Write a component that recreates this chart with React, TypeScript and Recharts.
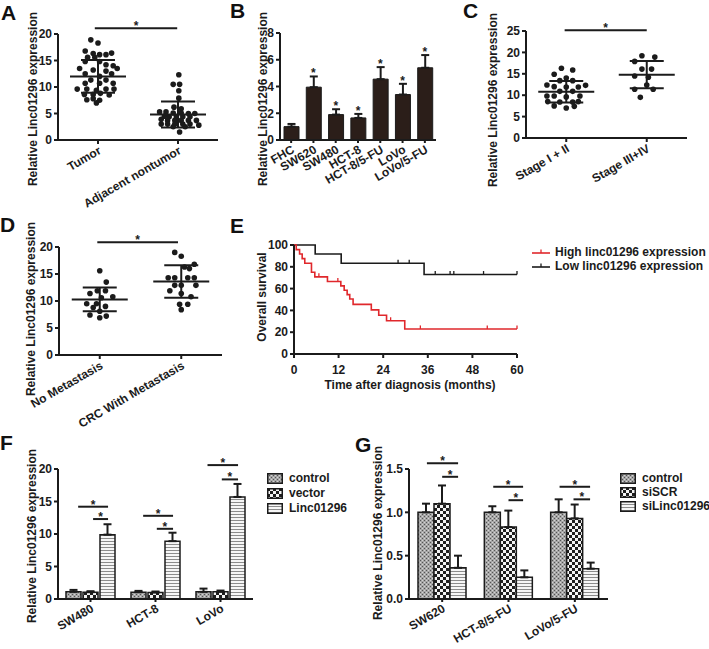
import React from 'react';
import {
  Bar,
  ComposedChart,
  ErrorBar,
  Line,
  ReferenceLine,
  Scatter,
  ScatterChart,
  XAxis,
  YAxis,
} from 'recharts';

const FONT = '"Liberation Sans", Arial, Helvetica, sans-serif';
const INK = '#1b1b1b';
const RED = '#e0282c';
const TICK = { fill: INK, fontSize: 12, fontWeight: 700, fontFamily: FONT };
const AX = { stroke: INK, strokeWidth: 2 };
const YTITLE = 'Relative Linc01296 expression';

// ---- A: tumor vs adjacent
const aCats = ['Tumor', 'Adjacent nontumor'];
const aTumor = [18.9, 18.3, 16.8, 16.3, 16.1, 16.1, 16.4, 15.6, 15.6, 14.8, 14.8, 14.2, 14.0, 13.5, 13.5, 13.2, 13.0, 12.5, 12.5, 12.0, 11.3, 11.3, 10.7, 10.7, 10.7, 9.6, 9.6, 9.4, 9.6, 9.6, 8.6, 8.6, 8.8, 8.5, 7.6, 7.8, 7.5, 7.0];
const aTumorJit = [-0.09, 0, -0.16, -0.06, 0.02, 0.1, 0.17, -0.13, -0.04, -0.16, 0.02, 0.1, 0.19, -0.23, 0.24, -0.06, 0.1, -0.16, 0.17, 0.02, -0.09, 0.1, -0.16, 0.02, 0.19, -0.26, -0.14, -0.02, 0.1, 0.2, -0.17, -0.06, 0.03, 0.14, -0.14, -0.06, 0.02, -0.02];
const aAdj = [12.3, 10.5, 10.5, 9.3, 7.9, 6.2, 5.9, 5.3, 5.3, 5.1, 5.1, 5.0, 5.0, 4.5, 4.4, 4.4, 4.4, 4.4, 3.9, 3.7, 3.7, 3.7, 3.7, 3.7, 3.0, 3.0, 3.0, 3.0, 3.0, 2.8, 2.5, 2.5, 1.5];
const aAdjJit = [0.01, -0.06, 0.02, 0.01, 0.01, -0.05, 0.04, -0.23, -0.15, -0.06, 0.04, 0.13, 0.21, -0.17, -0.11, -0.02, 0.06, 0.15, -0.21, -0.13, -0.04, 0.04, 0.13, 0.23, -0.21, -0.13, -0.04, 0.06, 0.15, 0.26, -0.06, 0.09, 0.02];
const aMean = [12.0, 4.8];
const aSd = [3.1, 2.45];

// ---- B: cell lines
const bCats = ['FHC', 'SW620', 'SW480', 'HCT-8', 'HCT-8/5-FU', 'LoVo', 'LoVo/5-FU'];
const bMean = [1.0, 3.95, 1.9, 1.65, 4.55, 3.4, 5.4];
const bErr = [0.2, 0.8, 0.4, 0.3, 0.9, 0.8, 0.95];
const bStar = [false, true, true, true, true, true, true];

// ---- C: stage
const cCats = ['Stage I + II', 'Stage III+IV'];
const cEarly = [16.3, 15.9, 14.9, 14.0, 13.4, 13.4, 12.4, 12.0, 11.9, 11.9, 12.3, 10.9, 10.9, 9.8, 9.8, 9.6, 9.8, 8.5, 8.4, 8.4, 8.5, 7.5, 7.4, 7.0];
const cEarlyJit = [-0.06, 0.08, -0.15, 0, -0.08, 0.08, -0.24, -0.15, 0, 0.15, 0.24, -0.08, 0.08, -0.24, -0.15, 0, 0.17, -0.23, -0.08, 0.08, 0.15, -0.15, 0.1, 0];
const cLate = [19.2, 18.9, 17.9, 16.1, 16.1, 14.5, 14.2, 12.4, 11.4, 11.4, 9.5];
const cLateJit = [-0.06, 0.1, -0.15, -0.06, 0.06, -0.15, 0.02, 0, -0.15, 0.08, -0.08];
const cMean = [10.8, 14.8];
const cSd = [2.5, 3.2];

// ---- D: metastasis
const dCats = ['No Metastasis', 'CRC With Metastasis'];
const dNo = [15.6, 13.5, 11.9, 11.9, 11.4, 10.8, 10.6, 9.5, 9.5, 9.0, 8.8, 8.1, 7.4, 7.2, 6.9];
const dNoJit = [0, 0.08, -0.03, 0.07, -0.12, 0.16, 0.02, -0.16, -0.04, 0.07, -0.08, 0, -0.12, 0.08, 0];
const dMet = [19.0, 18.3, 16.8, 16.3, 16.0, 14.3, 14.3, 14.3, 14.3, 12.9, 12.9, 12.9, 11.9, 11.4, 10.8, 9.4, 9.4, 8.4];
const dMetJit = [-0.08, 0, 0.16, 0.04, 0.1, -0.16, -0.08, 0.08, 0.16, -0.08, 0, 0.18, -0.14, 0, 0.12, -0.02, 0.08, 0];
const dMean = [10.3, 13.6];
const dSd = [2.2, 3.0];

// ---- E: survival
const highTimes = [0, 0.6, 1.5, 2.2, 2.9, 4.7, 5.6, 9.0, 12.6, 13.5, 14.3, 15.0, 15.9, 20.8, 22.8, 24.9, 29.8, 60];
const highSurv = [100, 95.8, 91.7, 87.5, 83.3, 75, 70.8, 66.5, 62.5, 58.5, 54.5, 50.5, 45.5, 40.5, 35.5, 30.5, 23, 23];
const highCensT = [6.7, 11.8, 26, 34, 52, 60];
const highCensS = [70.8, 66.5, 30.5, 23, 23, 23];
const lowTimes = [0, 5.7, 12.7, 35, 60];
const lowSurv = [100, 91.7, 83.3, 72.9, 72.9];
const lowCensT = [28, 31, 38, 42, 43, 51, 60];
const lowCensS = [83.3, 83.3, 72.9, 72.9, 72.9, 72.9, 72.9];

// ---- F: overexpression
const fCats = ['SW480', 'HCT-8', 'LoVo'];
const fNames = ['control', 'vector', 'Linc01296'];
const fCtrl = [1.1, 1.05, 1.1];
const fCtrlErr = [0.3, 0.2, 0.5];
const fVec = [1.05, 1.0, 1.1];
const fVecErr = [0.15, 0.15, 0.2];
const fLinc = [9.9, 8.9, 15.7];
const fLincErr = [1.6, 1.3, 2.0];
const fSig = [
  { g: 1, a: -0.19, b: 0.27, y: 14.2 },
  { g: 1, a: 0.04, b: 0.27, y: 12.3 },
  { g: 2, a: -0.19, b: 0.27, y: 12.8 },
  { g: 2, a: 0.02, b: 0.27, y: 10.8 },
  { g: 3, a: -0.2, b: 0.27, y: 20.6 },
  { g: 3, a: 0.02, b: 0.27, y: 18.4 },
];

// ---- G: knockdown
const gCats = ['SW620', 'HCT-8/5-FU', 'LoVo/5-FU'];
const gNames = ['control', 'siSCR', 'siLinc01296'];
const gCtrl = [1.0, 1.0, 1.0];
const gCtrlErr = [0.1, 0.07, 0.15];
const gScr = [1.1, 0.83, 0.93];
const gScrErr = [0.21, 0.19, 0.16];
const gSi = [0.36, 0.25, 0.35];
const gSiErr = [0.14, 0.08, 0.07];
const gSig = [
  { g: 1, a: -0.23, b: 0.24, y: 1.565 },
  { g: 1, a: 0, b: 0.24, y: 1.41 },
  { g: 2, a: -0.23, b: 0.22, y: 1.295 },
  { g: 2, a: 0, b: 0.22, y: 1.14 },
  { g: 3, a: -0.23, b: 0.23, y: 1.295 },
  { g: 3, a: -0.02, b: 0.23, y: 1.15 },
];

const PATS = ['url(#pGray)', 'url(#pChk)', 'url(#pStripe)'];

const YW = 30;
const XH = 30;

type Box = { left: number; top: number; width: number; height: number };
type Plot = { x0: number; x1: number; y0: number; y1: number };
type Sig = { g: number; a: number; b: number; y: number };

function margins(b: Box, p: Plot) {
  return {
    left: p.x0 - b.left - YW,
    right: b.left + b.width - p.x1,
    top: p.y0 - b.top,
    bottom: b.top + b.height - p.y1 - XH,
  };
}

const rotTick = (names?: string[]) => (p: any) => {
  const v = p.payload.value;
  const label = names ? names[Math.round(v) - 1] : v;
  return (
    <text x={p.x} y={p.y} dy={8} textAnchor='end' transform={`rotate(-30 ${p.x} ${p.y})`} style={TICK}>
      {label}
    </text>
  );
};

const Dot = (p: any) => <circle cx={p.cx} cy={p.cy} r={2.8} fill={INK} />;
const Nothing = () => <g />;
const MeanLine = (p: any) => (
  <line x1={p.cx - 28} x2={p.cx + 28} y1={p.cy} y2={p.cy} stroke={INK} strokeWidth={2} />
);
const starLabel = { value: '*', position: 'top' as const, offset: -2, fill: INK, fontSize: 12, fontWeight: 700 };

function sigLine(x1: number, x2: number, y: number, key: number) {
  return (
    <ReferenceLine
      key={key}
      segment={[{ x: x1, y }, { x: x2, y }]}
      stroke={INK}
      strokeWidth={2}
      ifOverflow='visible'
      label={starLabel}
    />
  );
}

function DotPanel(props: {
  box: Box; plot: Plot; cats: string[]; groups: number[][]; jit: number[][];
  means: number[]; sds: number[]; yMax: number; yTicks: number[]; sig: number[];
}) {
  const { box, plot, cats, groups, jit, means, sds, yMax, yTicks, sig } = props;
  const pts = groups.map((vals, gi) => vals.map((v, i) => ({ x: gi + 1 + jit[gi][i], y: v })));
  const summary = means.map((m, i) => ({ x: i + 1, y: m, sd: sds[i] }));
  return (
    <div style={{ position: 'absolute', left: box.left, top: box.top }}>
      <ScatterChart width={box.width} height={box.height} margin={margins(box, plot)}>
        <XAxis type='number' dataKey='x' domain={[0.5, 2.5]} ticks={[1, 2]} height={XH}
          axisLine={AX} tickLine={AX} tickSize={4} tickMargin={2} tick={rotTick(cats)} interval={0} allowDataOverflow />
        <YAxis type='number' dataKey='y' domain={[0, yMax]} ticks={yTicks} width={YW}
          axisLine={AX} tickLine={AX} tickSize={4} tickMargin={2} tick={TICK} interval={0} />
        {pts.map((d, i) => (
          <Scatter key={i} data={d} shape={Dot} isAnimationActive={false} />
        ))}
        <Scatter data={summary} shape={MeanLine} isAnimationActive={false}>
          <ErrorBar dataKey='sd' width={17} stroke={INK} strokeWidth={2} direction='y' />
        </Scatter>
        {sigLine(sig[0], sig[1], sig[2], 0)}
      </ScatterChart>
    </div>
  );
}

const StarShape = (p: any) =>
  p.payload.star == null ? <g /> : (
    <text x={p.cx} y={p.cy + 1} textAnchor='middle' style={{ ...TICK }}>*</text>
  );

function PanelB() {
  const box = { left: 232, top: 0, width: 225, height: 200 };
  const plot = { x0: 280, x1: 436, y0: 33, y1: 140 };
  const data = bCats.map((name, i) => ({
    name,
    v: bMean[i],
    e: [0, bErr[i]],
    star: bStar[i] ? bMean[i] + bErr[i] : null,
  }));
  return (
    <div style={{ position: 'absolute', left: box.left, top: box.top }}>
      <ComposedChart width={box.width} height={box.height} data={data} margin={margins(box, plot)} barSize={15}>
        <XAxis dataKey='name' height={XH} axisLine={AX} tickLine={AX} tickSize={3} tickMargin={2} tick={rotTick()} interval={0} />
        <YAxis domain={[0, 8]} ticks={[0, 2, 4, 6, 8]} width={YW} axisLine={AX} tickLine={AX} tickSize={4} tickMargin={2} tick={TICK} interval={0} />
        <Bar dataKey='v' fill='#2b1e19' stroke={INK} strokeWidth={1} isAnimationActive={false}>
          <ErrorBar dataKey='e' width={4} stroke={INK} strokeWidth={2} direction='y' />
        </Bar>
        <Scatter dataKey='star' shape={StarShape} isAnimationActive={false} />
      </ComposedChart>
    </div>
  );
}

function PanelE() {
  const box = { left: 232, top: 200, width: 300, height: 200 };
  const plot = { x0: 294, x1: 517, y0: 245, y1: 354 };
  const high = highTimes.map((t, i) => ({ t, s: highSurv[i] }));
  const low = lowTimes.map((t, i) => ({ t, s: lowSurv[i] }));
  const highC = highCensT.map((t, i) => ({ t, s: highCensS[i] }));
  const lowC = lowCensT.map((t, i) => ({ t, s: lowCensS[i] }));
  const cens = (color: string) => (p: any) => (
    <line x1={p.cx} x2={p.cx} y1={p.cy - 3.5} y2={p.cy} stroke={color} strokeWidth={1.3} />
  );
  return (
    <div style={{ position: 'absolute', left: box.left, top: box.top }}>
      <ComposedChart width={box.width} height={box.height} margin={margins(box, plot)}>
        <XAxis type='number' dataKey='t' domain={[0, 60]} ticks={[0, 12, 24, 36, 48, 60]} height={XH}
          axisLine={AX} tickLine={AX} tickSize={4} tickMargin={7} tick={TICK} interval={0} />
        <YAxis type='number' domain={[0, 100]} ticks={[0, 20, 40, 60, 80, 100]} width={YW}
          axisLine={AX} tickLine={AX} tickSize={4} tickMargin={2} tick={TICK} interval={0} />
        <Line data={low} dataKey='s' type='stepAfter' stroke={INK} strokeWidth={1.6} dot={false} isAnimationActive={false} />
        <Line data={high} dataKey='s' type='stepAfter' stroke={RED} strokeWidth={1.6} dot={false} isAnimationActive={false} />
        <Scatter data={lowC} dataKey='s' shape={cens(INK)} isAnimationActive={false} />
        <Scatter data={highC} dataKey='s' shape={cens(RED)} isAnimationActive={false} />
      </ComposedChart>
    </div>
  );
}

// significance brackets drawn on a bare numeric chart laid exactly over the bar plot
function SigOverlay({ box, plot, yMax, sig }: { box: Box; plot: Plot; yMax: number; sig: Sig[] }) {
  return (
    <div style={{ position: 'absolute', left: box.left, top: box.top, pointerEvents: 'none' }}>
      <ScatterChart
        width={box.width}
        height={box.height}
        margin={{
          left: plot.x0 - box.left,
          right: box.left + box.width - plot.x1,
          top: plot.y0 - box.top,
          bottom: box.top + box.height - plot.y1,
        }}
      >
        <XAxis type='number' dataKey='x' domain={[0.5, 3.5]} hide allowDataOverflow />
        <YAxis type='number' dataKey='y' domain={[0, yMax]} hide allowDataOverflow />
        <Scatter data={[{ x: 1, y: 0 }]} shape={Nothing} isAnimationActive={false} />
        {sig.map((s, i) => sigLine(s.g + s.a, s.g + s.b, s.y, i))}
      </ScatterChart>
    </div>
  );
}

function GroupBars(props: {
  box: Box; plot: Plot; cats: string[]; vals: number[][]; errs: number[][];
  yMax: number; yTicks: number[]; fmt?: (v: number) => string;
  sig: Sig[]; barSize: number; barGap: number;
}) {
  const { box, plot, cats, vals, errs, yMax, yTicks, fmt, sig, barSize, barGap } = props;
  const data = cats.map((name, i) => {
    const row: Record<string, any> = { name };
    vals.forEach((s, k) => {
      row['v' + k] = s[i];
      row['e' + k] = [0, errs[k][i]];
    });
    return row;
  });
  return (
    <>
      <div style={{ position: 'absolute', left: box.left, top: box.top }}>
        <ComposedChart width={box.width} height={box.height} data={data} margin={margins(box, plot)}
          barSize={barSize} barGap={barGap}>
          <XAxis dataKey='name' height={XH} axisLine={AX} tickLine={AX} tickSize={3} tickMargin={2} tick={rotTick()} interval={0} />
          <YAxis domain={[0, yMax]} ticks={yTicks} width={YW} axisLine={AX} tickLine={AX} tickSize={4} tickMargin={2}
            tick={TICK} tickFormatter={fmt} interval={0} />
          {vals.map((_, k) => (
            <Bar key={k} dataKey={'v' + k} fill={PATS[k]} stroke={INK} strokeWidth={1.5} isAnimationActive={false}>
              <ErrorBar dataKey={'e' + k} width={4} stroke={INK} strokeWidth={2} direction='y' />
            </Bar>
          ))}
        </ComposedChart>
      </div>
      <SigOverlay box={box} plot={plot} yMax={yMax} sig={sig} />
    </>
  );
}

function YTitle({ x, y, text }: { x: number; y: number; text: string }) {
  return (
    <div style={{
      position: 'absolute', left: x, top: y, transform: 'translate(-50%, -50%) rotate(-90deg)',
      whiteSpace: 'nowrap', fontSize: 12, fontWeight: 700, color: INK, lineHeight: '14px',
    }}>{text}</div>
  );
}

function Letter({ x, y, c }: { x: number; y: number; c: string }) {
  return (
    <div style={{ position: 'absolute', left: x, top: y, fontSize: 21, fontWeight: 700, lineHeight: '21px', color: '#111' }}>{c}</div>
  );
}

function PatLegend({ x, y, names, step }: { x: number; y: number; names: string[]; step: number }) {
  return (
    <div style={{ position: 'absolute', left: x, top: y }}>
      {names.map((n, i) => (
        <div key={n} style={{ position: 'absolute', left: 0, top: i * step, height: 14, display: 'flex', alignItems: 'center', whiteSpace: 'nowrap' }}>
          <svg width={16} height={11} style={{ display: 'block' }}>
            <rect x={0.75} y={0.75} width={14.5} height={9.5} fill={PATS[i]} stroke={INK} strokeWidth={1.5} />
          </svg>
          <span style={{ marginLeft: 6, fontSize: 12, fontWeight: 700, color: INK }}>{n}</span>
        </div>
      ))}
    </div>
  );
}

function SurvLegend() {
  const items = [
    { c: RED, t: 'High linc01296 expression' },
    { c: INK, t: 'Low linc01296 expression' },
  ];
  return (
    <div style={{ position: 'absolute', left: 532, top: 245 }}>
      {items.map((it, i) => (
        <div key={i} style={{ position: 'absolute', left: 0, top: i * 14, height: 14, display: 'flex', alignItems: 'center', whiteSpace: 'nowrap' }}>
          <svg width={18} height={10} style={{ display: 'block' }}>
            <line x1={0} x2={18} y1={6} y2={6} stroke={it.c} strokeWidth={1.6} />
            <line x1={9} x2={9} y1={2.5} y2={6} stroke={it.c} strokeWidth={1.3} />
          </svg>
          <span style={{ marginLeft: 5, fontSize: 12, fontWeight: 700, color: INK }}>{it.t}</span>
        </div>
      ))}
    </div>
  );
}

export default function App() {
  return (
    <div style={{ position: 'absolute', left: 0, top: 0, width: 709, height: 649, background: '#fff', fontFamily: FONT, overflow: 'hidden' }}>
      <svg width={0} height={0} style={{ position: 'absolute' }}>
        <defs>
          <pattern id='pGray' width={4} height={4} patternUnits='userSpaceOnUse'>
            <rect width={4} height={4} fill='#a6a6a6' />
            <rect x={0} y={0} width={1} height={1} fill='#555' />
            <rect x={2} y={2} width={1} height={1} fill='#555' />
            <rect x={2} y={0} width={1} height={1} fill='#d4d4d4' />
            <rect x={0} y={2} width={1} height={1} fill='#d4d4d4' />
          </pattern>
          <pattern id='pChk' width={6} height={6} patternUnits='userSpaceOnUse'>
            <rect width={6} height={6} fill='#f4f4f4' />
            <rect x={0} y={0} width={3} height={3} fill='#1e1e1e' />
            <rect x={3} y={3} width={3} height={3} fill='#1e1e1e' />
          </pattern>
          <pattern id='pStripe' width={4} height={3} patternUnits='userSpaceOnUse'>
            <rect width={4} height={3} fill='#f6f6f6' />
            <rect x={0} y={0} width={4} height={1} fill='#8c8c8c' />
          </pattern>
        </defs>
      </svg>

      <DotPanel box={{ left: 0, top: 0, width: 232, height: 215 }} plot={{ x0: 58, x1: 218, y0: 34, y1: 140 }}
        cats={aCats} groups={[aTumor, aAdj]} jit={[aTumorJit, aAdjJit]} means={aMean} sds={aSd}
        yMax={20} yTicks={[0, 5, 10, 15, 20]} sig={[0.96, 1.99, 21.1]} />
      <PanelB />
      <DotPanel box={{ left: 460, top: 0, width: 249, height: 200 }} plot={{ x0: 526, x1: 687, y0: 31, y1: 138 }}
        cats={cCats} groups={[cEarly, cLate]} jit={[cEarlyJit, cLateJit]} means={cMean} sds={cSd}
        yMax={25} yTicks={[0, 5, 10, 15, 20, 25]} sig={[0.98, 2.0, 25.2]} />
      <DotPanel box={{ left: 0, top: 200, width: 232, height: 245 }} plot={{ x0: 59, x1: 222, y0: 247, y1: 355 }}
        cats={dCats} groups={[dNo, dMet]} jit={[dNoJit, dMetJit]} means={dMean} sds={dSd}
        yMax={20} yTicks={[0, 5, 10, 15, 20]} sig={[0.97, 1.96, 20.9]} />
      <PanelE />
      <GroupBars box={{ left: 0, top: 430, width: 262, height: 219 }} plot={{ x0: 58, x1: 253, y0: 469, y1: 599 }}
        cats={fCats} vals={[fCtrl, fVec, fLinc]} errs={[fCtrlErr, fVecErr, fLincErr]}
        yMax={20} yTicks={[0, 5, 10, 15, 20]} sig={fSig} barSize={15} barGap={2} />
      <GroupBars box={{ left: 362, top: 430, width: 255, height: 219 }} plot={{ x0: 409, x1: 608, y0: 469, y1: 599 }}
        cats={gCats} vals={[gCtrl, gScr, gSi]} errs={[gCtrlErr, gScrErr, gSiErr]}
        yMax={1.5} yTicks={[0, 0.5, 1, 1.5]} fmt={(v) => v.toFixed(1)} sig={gSig} barSize={16} barGap={0} />

      <YTitle x={33} y={99} text={YTITLE} />
      <YTitle x={263} y={99} text={YTITLE} />
      <YTitle x={493} y={100} text={YTITLE} />
      <YTitle x={31} y={309} text={YTITLE} />
      <YTitle x={262} y={297} text='Overall survival' />
      <YTitle x={32} y={536} text={YTITLE} />
      <YTitle x={378} y={533} text={YTITLE} />

      <div style={{ position: 'absolute', left: 410, top: 385, transform: 'translate(-50%, -50%)', whiteSpace: 'nowrap', fontSize: 12, fontWeight: 700, color: INK }}>
        Time after diagnosis (months)
      </div>
      <SurvLegend />
      <PatLegend x={267} y={471} names={fNames} step={15} />
      <PatLegend x={620} y={471} names={gNames} step={14} />

      <Letter x={1} y={2} c='A' />
      <Letter x={230} y={0} c='B' />
      <Letter x={463} y={0} c='C' />
      <Letter x={0} y={214} c='D' />
      <Letter x={230} y={215} c='E' />
      <Letter x={0} y={432} c='F' />
      <Letter x={355} y={434} c='G' />
    </div>
  );
}
